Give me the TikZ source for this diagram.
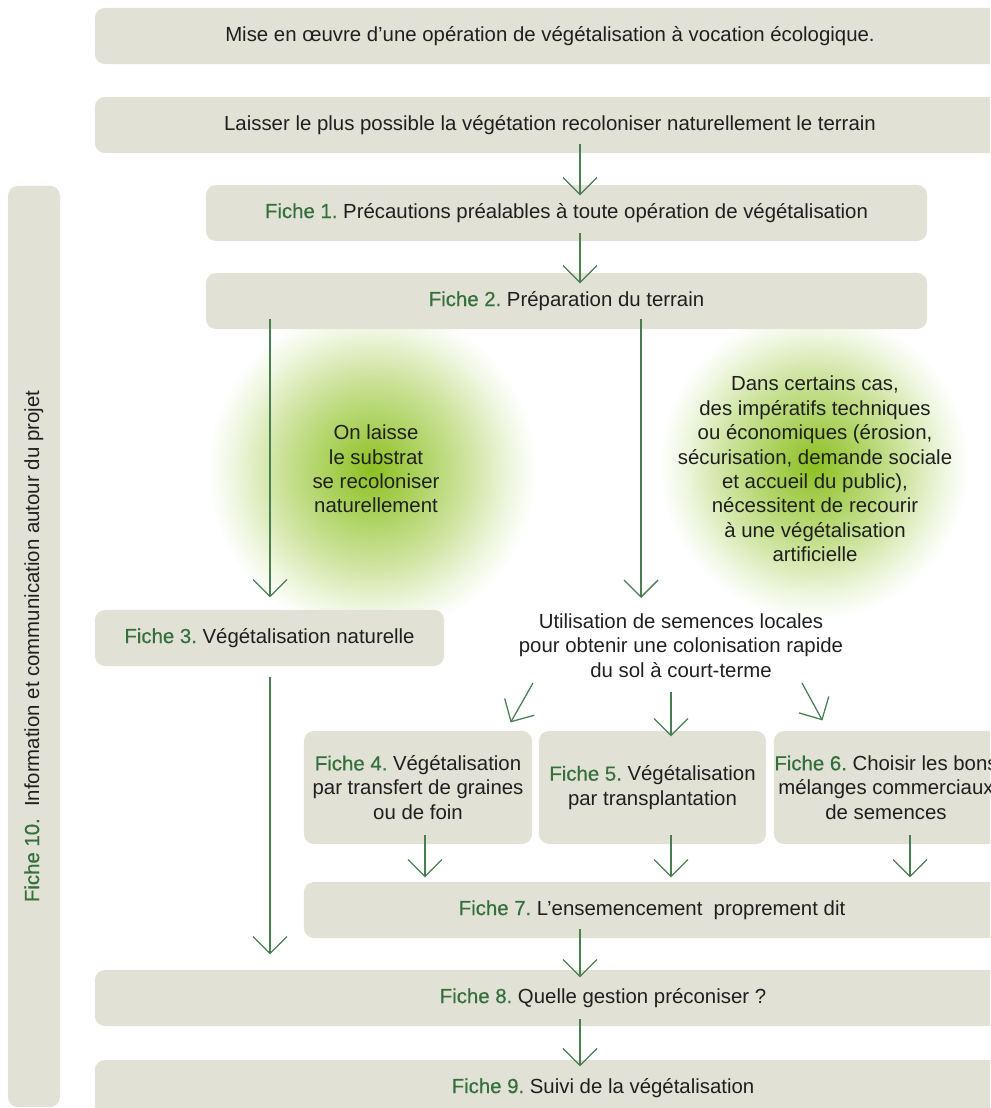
\documentclass[tikz,border=0pt]{standalone}
\usepackage{fontspec}
\setmainfont{Liberation Sans}
\newfontfamily\fichefont{Liberation Sans}[FakeBold=0.5]
\usetikzlibrary{arrows.meta,calc}
\definecolor{boxgray}{RGB}{226,225,213}
\definecolor{fichegreen}{RGB}{52,112,60}
\definecolor{flowgreen}{RGB}{72,126,82}
\definecolor{glowA}{RGB}{140,192,32}
\colorlet{glowB}{glowA!80!white}
\colorlet{glowC}{glowA!45!white}
\colorlet{glowD}{glowA!14!white}
\pgfdeclareradialshading{glow}{\pgfpoint{0bp}{0bp}}{color(0bp)=(glowA); color(5bp)=(glowB); color(14bp)=(glowC); color(21bp)=(glowD); color(25bp)=(white); color(50bp)=(white)}
\newcommand\fiche[1]{{\fichefont\color{fichegreen}#1}}
\frenchspacing

\begin{document}
\begin{tikzpicture}[x=0.025cm,y=-0.025cm,thick]
\tikzset{box/.style={fill=boxgray, rounded corners=0.25cm, inner sep=0pt,
minimum height=1.4cm, align=center, text=black!88,
text height=0.72em, text depth=0pt,
font=\fontsize{14.5}{17.4}\selectfont},
tallbox/.style={box, text height=, text depth=, minimum height=2.825cm},
note/.style={align=center, inner sep=0pt, text=black!88,
font=\fontsize{14.5}{17.4}\selectfont},
flow/.style={draw=flowgreen, line width=0.9pt,
-{Straight Barb[length=0.425cm,width=0.85cm]}},
}
\useasboundingbox (0,0) rectangle (990,1108);
\clip (0,0) rectangle (990,1108);

\shade[shading=glow] (372,470) circle[radius=165];
\shade[shading=glow] (814,465) circle[radius=155];

\coordinate (cleft) at (270,0);
\coordinate (cmid) at (580,0);
\coordinate (cctr) at (641,0);
\coordinate (cf4) at (425,0);
\coordinate (cf5) at (671,0);
\coordinate (cf6) at (910,0);

\node[box, minimum width=22.75cm] (mise) at (550,36) {Mise en œuvre d’une opération de végétalisation à vocation écologique.};
\node[box, minimum width=22.75cm] (laisser) at (550,125) {Laisser le plus possible la végétation recoloniser naturellement le terrain};
\node[box, rotate=90, minimum width=23.025cm, minimum height=1.3cm] (f10) at (34,646.5) {\fiche{Fiche 10.}\ \ Information et communication autour du projet};
\node[box, minimum width=18.025cm] (f1) at (566.5,213) {\fiche{Fiche 1.} Précautions préalables à toute opération de végétalisation};
\node[box, minimum width=18.025cm] (f2) at (566.5,301) {\fiche{Fiche 2.} Préparation du terrain};
\node[note] (natural) at (376,469) {On laisse\\le substrat\\se recoloniser\\naturellement};
\node[note] (artificial) at (815,469) {Dans certains cas,\\des impératifs techniques\\ou économiques (érosion,\\sécurisation, demande sociale\\et accueil du public),\\nécessitent de recourir\\à une végétalisation\\artificielle};
\node[box, minimum width=8.725cm] (f3) at (269.5,638) {\fiche{Fiche 3.} Végétalisation naturelle};
\node[note, anchor=north] (util) at (681,613) {Utilisation de semences locales\\pour obtenir une colonisation rapide\\du sol à court-terme};
\node[tallbox, minimum width=5.7cm] (f4) at (418,787.5) {\fiche{Fiche 4.} Végétalisation\\par transfert de graines\\ou de foin};
\node[tallbox, minimum width=5.675cm] (f5) at (652.5,787.5) {\fiche{Fiche 5.} Végétalisation\\par transplantation};
\node[tallbox, minimum width=5.6cm] (f6) at (886,787.5) {\fiche{Fiche 6.} Choisir les bons\\mélanges commerciaux\\de semences};
\node[box, minimum width=17.4cm] (f7) at (652,910) {\fiche{Fiche 7.} L’ensemencement\ \ proprement dit};
\node[box, minimum width=25.4cm] (f8) at (603,998) {\fiche{Fiche 8.} Quelle gestion préconiser ?};
\node[box, minimum width=25.4cm] (f9) at (603,1088) {\fiche{Fiche 9.} Suivi de la végétalisation};

\draw[flow] ($(laisser.south -| cmid)+(0,-10)$) -- ($(f1.north -| cmid)+(0,11)$);
\draw[flow] ($(f1.south -| cmid)+(0,-9)$) -- ($(f2.north -| cmid)+(0,11)$);
\draw[flow] ($(f2.south -| cleft)+(0,-11)$) -- ($(f3.north -| cleft)+(0,-12)$);
\draw[flow] ($(f2.south -| cctr)+(0,-11)$) -- ($(util.north -| cctr)+(0,-15)$);
\draw[flow] ($(util.south)+(-148,5)$) -- ($(f4.north east)+(-22,-8)$);
\draw[flow] ($(util.south -| cf5)+(0,14)$) -- ($(f5.north -| cf5)+(0,6)$);
\draw[flow] ($(util.south)+(121,5)$) -- ($(f6.north west)+(49,-10)$);
\draw[flow] ($(f3.south -| cleft)+(0,10)$) -- ($(f8.north -| cleft)+(0,-15)$);
\draw[flow] ($(f4.south -| cf4)+(0,-10)$) -- ($(f7.north -| cf4)+(0,-4)$);
\draw[flow] ($(f5.south -| cf5)+(0,-10)$) -- ($(f7.north -| cf5)+(0,-4)$);
\draw[flow] ($(f6.south -| cf6)+(0,-10)$) -- ($(f7.north -| cf6)+(0,-4)$);
\draw[flow] ($(f7.south -| cmid)+(0,-10)$) -- ($(f8.north -| cmid)+(0,8)$);
\draw[flow] ($(f8.south -| cmid)+(0,-8)$) -- ($(f9.north -| cmid)+(0,7)$);
\end{tikzpicture}
\end{document}
